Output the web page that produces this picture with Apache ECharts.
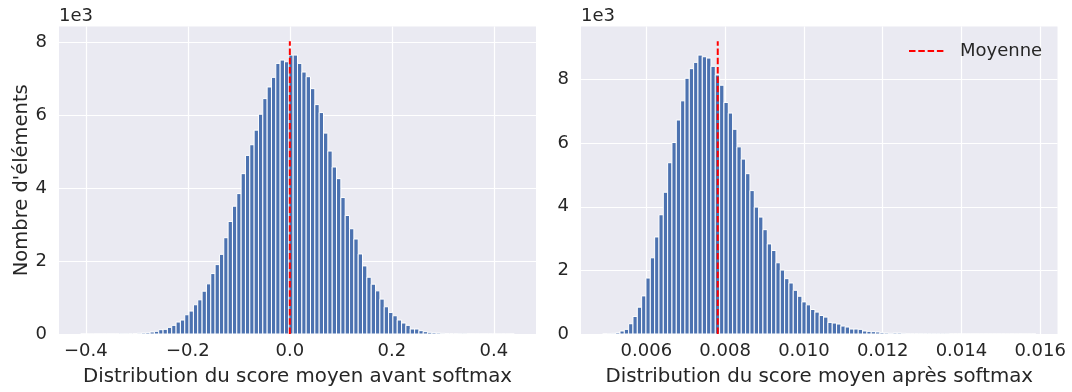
<!DOCTYPE html>
<html>
<head>
<meta charset="utf-8">
<script src="https://cdn.jsdelivr.net/npm/echarts@6/dist/echarts.min.js"></script>
<style>
  html, body { margin: 0; padding: 0; background: #ffffff; }
  #chart { width: 1072px; height: 392px; }
</style>
</head>
<body>
<div id="chart"></div>
<script>
// Histogram of the mean score before softmax (100 bins)
const leftBinStart = -0.41;
const leftBinWidth = 0.0085;
const leftCounts = [
  1, 0, 0, 1, 1, 1, 1, 2, 2, 4,
  5, 8, 12, 20, 27, 36, 55, 73, 118, 128,
  182, 237, 328, 383, 528, 629, 802, 938, 1175, 1376,
  1658, 1904, 2186, 2642, 3088, 3507, 3853, 4400, 4901, 5193,
  5594, 6031, 6459, 6778, 7042, 7425, 7516, 7470, 7653, 7653,
  7425, 7188, 7060, 6732, 6295, 6076, 5512, 5020, 4582, 4263,
  3744, 3252, 2888, 2606, 2196, 1868, 1558, 1367, 1184, 957,
  747, 592, 501, 383, 301, 237, 137, 137, 91, 64,
  46, 36, 27, 18, 15, 12, 9, 6, 4, 3,
  2, 2, 1, 1, 1, 0, 0, 1, 0, 1
];
const leftMean = 0.0;
const leftTicks = [-0.4, -0.2, 0.0, 0.2, 0.4];

// Histogram of the mean score after softmax (100 bins)
const rightBinStart = 0.00489;
const rightBinWidth = 0.00011;
const rightCounts = [
  1, 5, 21, 42, 94, 146, 323, 552, 844, 1198,
  1760, 2396, 3052, 3750, 4458, 5386, 6021, 6729, 7333, 8042,
  8344, 8542, 8771, 8719, 8677, 8417, 8146, 7823, 7281, 6948,
  6438, 5885, 5500, 5042, 4510, 3990, 3677, 3281, 2833, 2625,
  2240, 2010, 1740, 1604, 1375, 1188, 1010, 917, 771, 688,
  583, 531, 365, 344, 313, 250, 219, 156, 156, 146,
  94, 83, 73, 63, 42, 31, 21, 31, 31, 21,
  10, 10, 10, 8, 7, 6, 5, 5, 4, 4,
  3, 3, 3, 2, 2, 2, 2, 1, 1, 1,
  1, 1, 1, 0, 1, 0, 1, 0, 0, 1
];
const rightMean = 0.0078125;
const rightTicks = [0.006, 0.008, 0.010, 0.012, 0.014, 0.016];

const countTicks = [0, 2000, 4000, 6000, 8000];
const countScaleLabel = '1e3';
const xTitles = ['Distribution du score moyen avant softmax', 'Distribution du score moyen après softmax'];
const yTitle = "Nombre d'éléments";
const meanName = 'Moyenne';

const FONT = 'DejaVu Sans';
const TEXT = '#262626';
const BAR = '#4C72B0';
const PANEL = '#EAEAF2';

function binRows(start, width, counts) {
  return counts.map((c, i) => [start + i * width, start + (i + 1) * width, c]);
}
function padded(lo, hi) {
  const m = (hi - lo) * 0.05;
  return [lo - m, hi + m];
}

const panels = [
  { start: leftBinStart, width: leftBinWidth, counts: leftCounts, mean: leftMean, ticks: leftTicks, digits: 1 },
  { start: rightBinStart, width: rightBinWidth, counts: rightCounts, mean: rightMean, ticks: rightTicks, digits: 3 }
].map(p => {
  const lo = p.start, hi = p.start + p.counts.length * p.width;
  const meanTop = Math.max(...p.counts) * 1.05;
  return Object.assign(p, { xRange: padded(lo, hi), meanTop, yMax: meanTop * 1.05 });
});

function renderBar(params, api) {
  const top = api.coord([api.value(0), api.value(2)]);
  const base = api.coord([api.value(1), 0]);
  return {
    type: 'rect',
    shape: { x: top[0], y: top[1], width: base[0] - top[0], height: base[1] - top[1] },
    style: { fill: BAR, stroke: '#ffffff', lineWidth: 1 }
  };
}

const grids = [
  { left: 59, top: 26.5, width: 477, height: 308.5 },
  { left: 581, top: 26.5, width: 476.5, height: 308.5 }
].map(g => Object.assign(g, { show: true, backgroundColor: PANEL, borderWidth: 0, containLabel: false }));

const xAxes = panels.map((p, i) => ({
  type: 'value',
  gridIndex: i,
  min: p.xRange[0],
  max: p.xRange[1],
  name: xTitles[i],
  nameLocation: 'middle',
  nameGap: 33,
  nameTextStyle: { fontFamily: FONT, fontSize: 19.8, color: TEXT },
  axisLine: { show: false },
  axisTick: { show: false, customValues: p.ticks },
  axisLabel: {
    customValues: p.ticks,
    margin: 8,
    fontFamily: FONT, fontSize: 18, color: TEXT,
    formatter: v => v.toFixed(p.digits).replace('-', '\u2212')
  },
  splitLine: { show: true, lineStyle: { color: '#ffffff', width: 1.2 } }
}));

const yAxes = panels.map((p, i) => ({
  type: 'value',
  gridIndex: i,
  min: 0,
  max: p.yMax,
  name: i === 0 ? yTitle : '',
  nameLocation: 'middle',
  nameGap: 22,
  nameTextStyle: { fontFamily: FONT, fontSize: 19.5, color: TEXT },
  axisLine: { show: false },
  axisTick: { show: false, customValues: countTicks },
  axisLabel: {
    customValues: countTicks,
    margin: 12,
    fontFamily: FONT, fontSize: 18, color: TEXT,
    formatter: v => String(Math.round(v / 1000))
  },
  splitLine: { show: true, lineStyle: { color: '#ffffff', width: 1.2 } }
}));

const series = [];
panels.forEach((p, i) => {
  series.push({
    type: 'custom',
    xAxisIndex: i,
    yAxisIndex: i,
    renderItem: renderBar,
    clip: true,
    encode: { x: [0, 1], y: 2 },
    data: binRows(p.start, p.width, p.counts),
    z: 2,
    silent: true
  });
  series.push({
    type: 'line',
    name: meanName,
    xAxisIndex: i,
    yAxisIndex: i,
    data: [[p.mean, 0], [p.mean, p.meanTop]],
    symbol: 'none',
    lineStyle: { color: '#ff0000', width: 2, type: [6.5, 2.8] },
    itemStyle: { color: '#ff0000' },
    z: 5,
    silent: true,
    animation: false
  });
});

const chart = echarts.init(document.getElementById('chart'), null, { renderer: 'canvas' });
chart.setOption({
  animation: false,
  backgroundColor: '#ffffff',
  grid: grids,
  xAxis: xAxes,
  yAxis: yAxes,
  legend: {
    data: [meanName],
    left: 903,
    top: 37,
    itemWidth: 35,
    itemHeight: 14,
    selectedMode: false,
    itemStyle: { opacity: 0 },
    lineStyle: { color: '#ff0000', width: 2, type: [6.5, 2.8] },
    textStyle: { fontFamily: FONT, fontSize: 18, color: TEXT, padding: [0, 0, 0, 11] }
  },
  graphic: grids.map(g => ({
    type: 'text',
    left: g.left,
    top: 7,
    style: { text: countScaleLabel, font: '18px "DejaVu Sans"', fill: TEXT }
  })),
  series: series
});
</script>
</body>
</html>
